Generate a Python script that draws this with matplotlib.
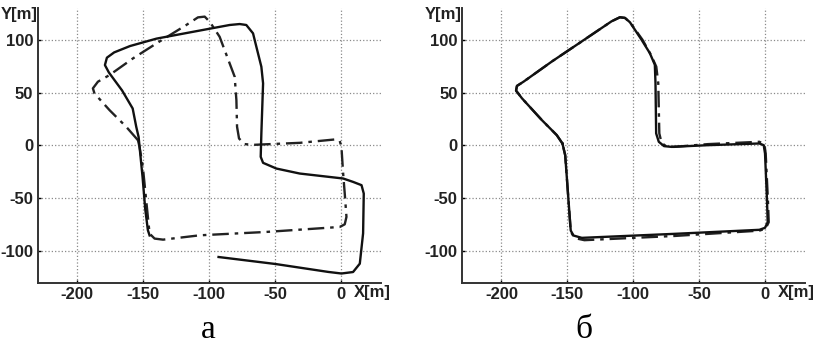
import matplotlib.pyplot as plt

# panel a: solid trajectory
a_solid_x = [-93, -50, -10, 0, 8.8, 13.9, 16.4, 16.9, 15.2, 8.8, 1.3, -31.6, -49.2, -59.3, -61.1,
             -60.6, -59.3, -60.6, -64.4, -66.9, -72, -77, -84.6, -110, -140, -160, -172, -177.5,
             -179, -176, -166, -158, -155.3, -153.5, -152.8, -150.5, -148.5, -146.5, -145.2]
a_solid_y = [-105.4, -112, -119.5, -121, -119.6, -111.7, -83, -45.4, -37.5, -34.4, -31.2, -26.5,
             -21.8, -16.4, -10.7, 11.4, 58.7, 74.4, 93.4, 106, 113.9, 114.8, 113.9, 108, 101,
             94, 88, 83, 76, 69, 52, 35, 17.7, 8, -1, -30, -60, -80, -85]

# panel a: dash-dot trajectory
a_dash_x = [-154, -162.9, -175.5, -186.9, -188.1, -184.3, -175.5, -157.8, -140, -117.4, -108.6,
            -103.5, -99.7, -92.2, -84.6, -80.8, -79.5, -79, -77.5, -73.2, -66.9, -31.6, -5, -1.3,
            0, 1.3, 2.5, 3.8, 2.5, -1.3, -56.8, -107.3, -135, -141.4, -145.2, -146.5, -150.3,
            -152.8, -154]
a_dash_y = [5, 17.7, 33.4, 49.2, 54, 60.3, 66.6, 82.3, 96.5, 113.9, 121.1, 121.8, 117, 102.8,
            77.6, 65, 42.9, 17.7, 6.6, 1.3, 0.6, 2.5, 5.7, 4.4, -1.3, -26.5, -45.4, -67.5, -74.5,
            -77, -81.7, -84.9, -89, -88, -83.3, -67.5, -20.2, -1.3, 5]

# panel b: solid trajectory
b_solid_x = [-153.7, -158, -169.3, -184.4, -188.9, -188.2, -183.1, -161.7, -139, -116.4, -110.1,
             -106.3, -102.5, -93.7, -87.4, -83.6, -83.1, -82.6, -80.6, -76.6, -71, -43.3, -4.3,
             -1, 0, 1.5, 2, 0, -4.3, -68.5, -139, -145.3, -147.4, -149.1, -151.6, -153.7]
b_solid_y = [1.9, 9.8, 24, 44.6, 51.9, 56.3, 60.4, 79.4, 98.4, 117.4, 121.2, 120.6, 116.5, 100,
             87.3, 76.3, 58.9, 11.4, 3.5, -0.6, -1.3, 0.3, 1.9, 0.3, -7.6, -51.9, -72.5, -77.8,
             -79.7, -83.5, -87.3, -85.1, -80.4, -51.9, -9.2, 1.9]

# panel b: dash-dot trajectory
b_dash_x = [-153.7, -158, -169.3, -184.4, -188.9, -188.2, -183.1, -161.7, -139, -116.4, -110.1,
            -106.3, -102.5, -93, -86.5, -82.5, -81, -80.2, -78.5, -74.5, -69, -43.3, -4.3,
            -0.5, 0.5, 2.2, 2.8, 0.5, -4.3, -68.5, -137, -144.5, -147.4, -149.1, -151.6, -153.7]
b_dash_y = [1.9, 9.8, 24, 44.6, 51.9, 56.3, 60.4, 79.4, 98.4, 117.4, 121.2, 120.6, 116.5, 100,
            85.5, 74.5, 58.9, 11.4, 2.5, -1.2, -1.3, 1.3, 3.5, 1.3, -7.6, -51.9, -72.5, -78.5,
            -80.5, -85.5, -89.5, -87.5, -81.4, -51.9, -9.2, 1.9]

x_ticks = [-200, -150, -100, -50, 0]
y_ticks = [-100, -50, 0, 50, 100]
captions = ["а", "б"]

plt.rcParams['axes.unicode_minus'] = False
sans = ['Liberation Sans Narrow', 'Liberation Sans', 'DejaVu Sans']

fig = plt.figure(figsize=(8.16, 3.46), dpi=100)
ax_a = fig.add_axes([0.046, 0.182, 0.421, 0.795])
ax_b = fig.add_axes([0.566, 0.182, 0.420, 0.795])

panels = [(ax_a, a_solid_x, a_solid_y, a_dash_x, a_dash_y),
          (ax_b, b_solid_x, b_solid_y, b_dash_x, b_dash_y)]

for i, (ax, sx, sy, dx, dy) in enumerate(panels):
    ax.plot(dx, dy, color='#222222', lw=1.7, dashes=(7, 2.5, 1.5, 2.5))
    ax.plot(sx, sy, color='#111111', lw=1.7)
    ax.set_xlim(-230, 30)
    ax.set_ylim(-130, 130)
    ax.set_xticks(x_ticks)
    ax.set_yticks(y_ticks)
    ax.grid(True, linestyle=':', color='#8a8a8a', lw=0.9)
    for s in ['top', 'right']:
        ax.spines[s].set_visible(False)
    for s in ['left', 'bottom']:
        ax.spines[s].set_linewidth(1.4)
        ax.spines[s].set_color('#333333')
    ax.tick_params(direction='in', length=2, width=1, pad=3, labelsize=12)
    for lab in ax.get_xticklabels() + ax.get_yticklabels():
        lab.set_family(sans)
        lab.set_fontweight('bold')
        lab.set_color('#222222')
    ax.text(-0.055, 0.975, "Y[m]", transform=ax.transAxes, ha='center', va='center',
            family=sans, fontweight='bold', fontsize=12, color='#222222')
    ax.text(0.975, -0.035, "X[m]", transform=ax.transAxes, ha='center', va='center',
            family=sans, fontweight='bold', fontsize=12, color='#222222')

fig.text(208 / 816, 1 - 330 / 346, captions[0], ha='center', va='center',
         family=['Liberation Serif', 'DejaVu Serif'], fontsize=24)
fig.text(584 / 816, 1 - 330 / 346, captions[1], ha='center', va='center',
         family=['Liberation Serif', 'DejaVu Serif'], fontsize=24)

fig.savefig('out.png', dpi=100)
